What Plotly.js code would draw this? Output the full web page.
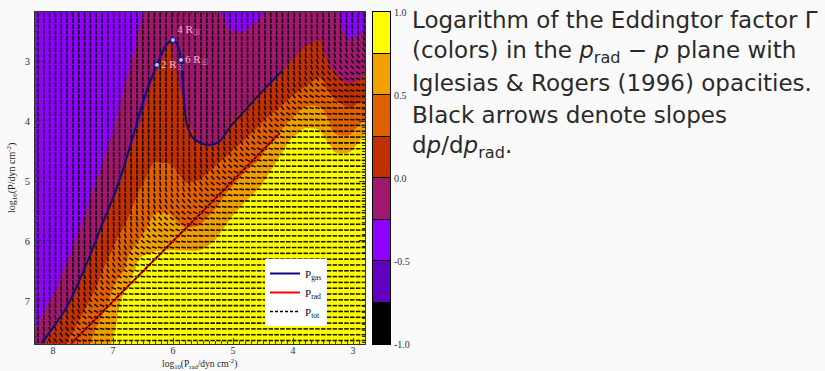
<!DOCTYPE html>
<html><head><meta charset="utf-8">
<script src="https://cdn.plot.ly/plotly-3.0.1.min.js"></script>
<style>html,body{margin:0;padding:0;background:#fafafa;} #chart{width:825px;height:371px;}</style>
</head><body><div id="chart"></div>
<script>
// ---- data ----
const xGrid = [8.3, 8.05, 7.8, 7.55, 7.3, 7.05, 6.8, 6.55, 6.3, 6.05, 5.8, 5.55, 5.3, 5.05, 4.8, 4.55, 4.3, 4.05, 3.8, 3.55, 3.3, 3.05, 2.8];
const yGrid = [2.18, 2.45, 2.7, 2.95, 3.2, 3.45, 3.7, 3.95, 4.2, 4.45, 4.7, 4.95, 5.2, 5.45, 5.7, 5.95, 6.2, 6.45, 6.7, 6.95, 7.2, 7.45, 7.72];
// log10 Gamma, one array per x column (top -> bottom along yGrid)
const logGammaByColumn = [
 [-0.38,-0.38,-0.38,-0.38,-0.38,-0.38,-0.38,-0.38,-0.38,-0.38,-0.38,-0.38,-0.38,-0.38,-0.38,-0.38,-0.38,-0.38,-0.38,-0.38,-0.38,-0.27,-0.12],
 [-0.38,-0.38,-0.38,-0.38,-0.38,-0.38,-0.38,-0.38,-0.38,-0.38,-0.38,-0.38,-0.38,-0.38,-0.38,-0.38,-0.38,-0.38,-0.38,-0.27,-0.14,-0.02,0.07],
 [-0.38,-0.38,-0.38,-0.38,-0.38,-0.38,-0.38,-0.38,-0.38,-0.38,-0.38,-0.38,-0.38,-0.38,-0.38,-0.38,-0.34,-0.24,-0.16,-0.07,0.02,0.12,0.23],
 [-0.38,-0.38,-0.38,-0.38,-0.38,-0.38,-0.38,-0.38,-0.38,-0.38,-0.38,-0.38,-0.38,-0.35,-0.27,-0.2,-0.12,-0.05,0.03,0.12,0.21,0.31,0.4],
 [-0.38,-0.38,-0.38,-0.38,-0.38,-0.38,-0.38,-0.38,-0.38,-0.38,-0.35,-0.28,-0.21,-0.15,-0.08,-0.01,0.06,0.14,0.21,0.3,0.4,0.49,0.55],
 [-0.38,-0.38,-0.38,-0.38,-0.38,-0.38,-0.38,-0.33,-0.28,-0.22,-0.16,-0.1,-0.05,0.02,0.09,0.17,0.24,0.33,0.41,0.5,0.57,0.63,0.73],
 [-0.38,-0.38,-0.37,-0.32,-0.28,-0.24,-0.19,-0.15,-0.1,-0.06,-0.01,0.04,0.11,0.17,0.24,0.33,0.41,0.5,0.67,0.82,0.9,0.95,0.95],
 [-0.28,-0.24,-0.21,-0.17,-0.13,-0.09,-0.055,-0.02,0.03,0.09,0.15,0.2,0.27,0.34,0.41,0.49,0.7,0.85,0.93,0.95,0.95,0.95,0.95],
 [-0.17,-0.13,-0.09,-0.045,-0.005,0.04,0.08,0.125,0.17,0.21,0.255,0.33,0.4,0.47,0.55,0.65,0.76,0.88,0.95,0.95,0.95,0.95,0.95],
 [-0.1,-0.05,0.01,0.04,0.07,0.1,0.12,0.15,0.19,0.22,0.245,0.32,0.39,0.46,0.55,0.66,0.77,0.89,0.95,0.95,0.95,0.95,0.95],
 [-0.2,-0.2,-0.19,-0.14,-0.09,-0.05,-0.005,0.05,0.09,0.14,0.19,0.23,0.3,0.38,0.46,0.6,0.78,0.9,0.95,0.95,0.95,0.95,0.95],
 [-0.2,-0.2,-0.2,-0.2,-0.2,-0.2,-0.2,-0.18,-0.07,0.04,0.14,0.24,0.33,0.4,0.48,0.61,0.78,0.9,0.95,0.95,0.95,0.95,0.95],
 [-0.22,-0.2,-0.2,-0.2,-0.2,-0.2,-0.2,-0.17,-0.1,0.06,0.23,0.32,0.41,0.49,0.61,0.73,0.86,0.95,0.95,0.95,0.95,0.95,0.95],
 [-0.3,-0.255,-0.21,-0.17,-0.14,-0.1,-0.06,-0.02,0.06,0.21,0.32,0.42,0.53,0.66,0.78,0.9,0.95,0.95,0.95,0.95,0.95,0.95,0.95],
 [-0.32,-0.26,-0.215,-0.17,-0.12,-0.07,-0.025,0.06,0.2,0.32,0.43,0.54,0.67,0.8,0.92,0.95,0.95,0.95,0.95,0.95,0.95,0.95,0.95],
 [-0.27,-0.22,-0.17,-0.12,-0.07,-0.02,0.075,0.2,0.31,0.42,0.53,0.67,0.8,0.92,0.95,0.95,0.95,0.95,0.95,0.95,0.95,0.95,0.95],
 [-0.2,-0.2,-0.2,-0.15,-0.04,0.07,0.18,0.31,0.44,0.59,0.74,0.87,0.95,0.95,0.95,0.95,0.95,0.95,0.95,0.95,0.95,0.95,0.95],
 [-0.2,-0.2,-0.13,-0.03,0.07,0.17,0.29,0.47,0.68,0.83,0.95,0.95,0.95,0.95,0.95,0.95,0.95,0.95,0.95,0.95,0.95,0.95,0.95],
 [-0.2,-0.11,-0.02,0.07,0.16,0.26,0.45,0.64,0.8,0.92,0.95,0.95,0.95,0.95,0.95,0.95,0.95,0.95,0.95,0.95,0.95,0.95,0.95],
 [-0.17,-0.08,0.02,0.12,0.21,0.33,0.46,0.61,0.78,0.9,0.95,0.95,0.95,0.95,0.95,0.95,0.95,0.95,0.95,0.95,0.95,0.95,0.95],
 [-0.22,-0.2,-0.2,-0.16,-0.01,0.14,0.28,0.39,0.49,0.71,0.85,0.95,0.95,0.95,0.95,0.95,0.95,0.95,0.95,0.95,0.95,0.95,0.95],
 [-0.35,-0.3,-0.23,-0.15,-0.07,0.03,0.2,0.34,0.47,0.71,0.86,0.95,0.95,0.95,0.95,0.95,0.95,0.95,0.95,0.95,0.95,0.95,0.95],
 [-0.33,-0.26,-0.18,-0.09,-0.005,0.13,0.29,0.49,0.74,0.87,0.95,0.95,0.95,0.95,0.95,0.95,0.95,0.95,0.95,0.95,0.95,0.95,0.95]
];
const levels = [-1.0, -0.75, -0.5, -0.25, 0.0, 0.25, 0.5, 0.75, 1.0];
const bandColors = ['#000000', '#6000c0', '#9000ff', '#a0186e', '#c03000', '#e06000', '#f0a000', '#ffff00'];
const cbTickVals = [-1.0, -0.5, 0.0, 0.5, 1.0];
const cbTickText = ['-1.0', '-0.5', '0.0', '0.5', '1.0'];

const pgasX = [8.183, 7.767, 7.433, 7.183, 6.967, 6.817, 6.683, 6.5, 6.383, 6.267, 6.133, 6.0, 5.917, 5.867, 5.833, 5.817, 5.767, 5.667, 5.55, 5.383, 5.217, 5.05, 4.883, 4.6, 4.183];
const pgasY = [7.697, 7.097, 6.363, 5.73, 5.197, 4.763, 4.313, 3.68, 3.347, 3.063, 2.763, 2.647, 2.747, 2.98, 3.397, 3.647, 4.063, 4.28, 4.363, 4.397, 4.33, 4.097, 3.913, 3.597, 3.163];
const pradX = [7.70, 6.50, 5.50, 4.22];
const pradY = [7.713, 6.51, 5.50, 4.20];
const ptotX = [7.70, 6.50, 5.50, 4.22];
const ptotY = [7.713, 6.51, 5.50, 4.20];
const radiusX = [6.267, 6.0, 5.867];
const radiusY = [3.063, 2.647, 2.98];
const radiusText = ['2 R<sub>☉</sub>', '4 R<sub>☉</sub>', '6 R<sub>☉</sub>'];

const xTitle = 'log<sub>10</sub>(P<sub>rad</sub>/dyn cm<sup>-2</sup>)';
const yTitle = 'log<sub>10</sub>(P/dyn cm<sup>-2</sup>)';
const captionLines = [
  'Logarithm of the Eddingtor factor Γ',
  '(colors) in the <i>p</i><sub>rad</sub> − <i>p</i> plane with',
  'Iglesias &amp; Rogers (1996) opacities.',
  'Black arrows denote slopes',
  'd<i>p</i>/d<i>p</i><sub>rad</sub>.'
];

// ---- derived ----
const nL = levels.length; // 9
const contourScale = [];
bandColors.forEach((c, k) => {
  const lo = k === 0 ? 0 : (k + 0.5) / nL;
  const hi = k === bandColors.length - 1 ? 1 : (k + 1.5) / nL;
  contourScale.push([lo, c], [hi, c]);
});
const nb = bandColors.length;
const barScale = [];
bandColors.forEach((c, k) => { barScale.push([k / nb, c], [(k + 1) / nb, c]); });
const bandMid = levels.slice(0, -1).map((l, k) => (l + levels[k + 1]) / 2);

function sampleLogGamma(x, y) {
  const c = logGammaByColumn;
  let fi = (xGrid[0] - x) / (xGrid[0] - xGrid[1]);
  fi = Math.max(0, Math.min(xGrid.length - 1.0001, fi));
  const i = Math.floor(fi), tx = fi - i;
  let j = 0;
  while (j < yGrid.length - 2 && y > yGrid[j + 1]) j++;
  let ty = (y - yGrid[j]) / (yGrid[j + 1] - yGrid[j]);
  ty = Math.max(0, Math.min(1, ty));
  return (1 - tx) * (1 - ty) * c[i][j] + tx * (1 - ty) * c[i + 1][j] + (1 - tx) * ty * c[i][j + 1] + tx * ty * c[i + 1][j + 1];
}

// slope field dp/dp_rad = 1/Gamma  ->  dlog p / dlog p_rad = (p_rad/p)/Gamma
const sx = [], sy = [];
const step = 0.097, half = 0.038;
for (let y = yGrid[0] + 0.05; y < yGrid[yGrid.length - 1]; y += step) {
  for (let x = xGrid[0] - 0.05; x > xGrid[xGrid.length - 1]; x -= step) {
    const s = Math.pow(10, x - y - sampleLogGamma(x, y));
    const a = Math.atan(s);
    const dx = half * Math.cos(a), dy = half * Math.sin(a);
    sx.push(x - dx, x + dx, null);
    sy.push(y + dy, y - dy, null);
  }
}

const serif = 'Liberation Serif, Times New Roman, serif';
const traces = [
  {
    type: 'contour', x: xGrid, y: yGrid, z: logGammaByColumn, transpose: true,
    autocontour: false, contours: {start: -1, end: 1, size: 0.25, coloring: 'fill', showlines: false},
    line: {width: 0, smoothing: 1.0},
    colorscale: contourScale, zmin: -1, zmax: 1, showscale: false, hoverinfo: 'skip', showlegend: false
  },
  {
    type: 'scatter', mode: 'lines', x: sx, y: sy, connectgaps: false,
    line: {color: 'rgba(0,0,0,0.9)', width: 1.6}, hoverinfo: 'skip', showlegend: false
  },
  {
    type: 'scatter', mode: 'lines', x: pgasX, y: pgasY, name: 'P<sub>gas</sub>',
    line: {color: '#0c0c80', width: 2, shape: 'spline', smoothing: 0.8}
  },
  {
    type: 'scatter', mode: 'lines', x: pradX, y: pradY, name: 'P<sub>rad</sub>',
    line: {color: '#ff0000', width: 2}
  },
  {
    type: 'scatter', mode: 'lines', x: ptotX, y: ptotY, name: 'P<sub>tot</sub>',
    line: {color: '#000000', width: 1.5, dash: '3px,2px'}
  },
  {
    type: 'scatter', mode: 'markers+text', x: radiusX, y: radiusY, text: radiusText,
    textposition: ['middle right', 'top right', 'middle right'],
    textfont: {family: serif, size: 11, color: '#ffb4c8'},
    marker: {size: 5, color: '#a8c8ff', line: {color: '#0c0c80', width: 1}},
    showlegend: false, hoverinfo: 'skip'
  },
  {
    type: 'heatmap', x: [0], y: bandMid, z: bandMid.map(v => [v]), xaxis: 'x2', yaxis: 'y2',
    colorscale: barScale, zmin: -1, zmax: 1, showscale: false, ygap: 1, hoverinfo: 'skip'
  }
];

const plotW = 825 - 35 - 435, plotH = 371 - 12 - 27;
const px2x = p => (p - 35) / plotW;
const py2y = p => (344 - p) / plotH;

const annotations = captionLines.map((t, k) => ({
  xref: 'paper', yref: 'paper', x: px2x(410), y: py2y(20 + 31.7 * k),
  xanchor: 'left', yanchor: 'middle', text: t, showarrow: false, align: 'left',
  font: {family: 'DejaVu Sans, sans-serif', size: 23, color: '#2a2a2a'}
}));
annotations.push(
  {xref: 'paper', yref: 'paper', x: px2x(199), y: py2y(371), xanchor: 'center', yanchor: 'bottom',
   text: xTitle, showarrow: false, borderpad: 0, font: {family: serif, size: 9.5, color: '#222'}},
  {xref: 'paper', yref: 'paper', x: px2x(12), y: py2y(178), xanchor: 'center', yanchor: 'middle',
   text: yTitle, textangle: -90, showarrow: false, font: {family: serif, size: 10, color: '#222'}}
);

const axisCommon = {
  ticks: 'inside', ticklen: 6, tickwidth: 1, tickcolor: '#333',
  showline: true, linecolor: '#333', linewidth: 1, mirror: 'allticks',
  showgrid: false, zeroline: false, tickmode: 'linear', tick0: 0, dtick: 1,
  minor: {ticks: 'inside', ticklen: 3, dtick: 0.1, tick0: 0, tickcolor: '#333', showgrid: false},
  tickfont: {family: serif, size: 10.5, color: '#333'}, automargin: false
};

const layout = {
  width: 825, height: 371,
  margin: {l: 35, r: 435, t: 12, b: 27},
  paper_bgcolor: '#fafafa', plot_bgcolor: '#000000',
  showlegend: true,
  legend: {x: px2x(265), y: py2y(259), xanchor: 'left', yanchor: 'top', bgcolor: '#ffffff',
           font: {family: serif, size: 11, color: '#111'}, itemwidth: 30, borderwidth: 0},
  xaxis: Object.assign({}, axisCommon, {
    domain: [0, 330 / plotW], range: [8.3, 2.8], anchor: 'y', ticklabelstandoff: -3,
    tickfont: {family: serif, size: 10, color: '#333'}
  }),
  yaxis: Object.assign({}, axisCommon, {
    domain: [0, 1], range: [7.72, 2.18], anchor: 'x', ticklabelstandoff: 2
  }),
  xaxis2: {domain: [338 / plotW, 1], range: [-0.5, 0.5], anchor: 'y2', showticklabels: false, ticks: '',
           showline: true, mirror: true, linecolor: '#000', linewidth: 1, showgrid: false, zeroline: false},
  yaxis2: {domain: [0, 1], range: [-1, 1], anchor: 'x2', side: 'right', tickmode: 'array',
           tickvals: cbTickVals, ticktext: cbTickText, ticks: '', showline: true, mirror: true,
           linecolor: '#000', linewidth: 1, showgrid: false, zeroline: false,
           tickfont: {family: serif, size: 10, color: '#333'}, ticklabelstandoff: 1},
  annotations: annotations
};

Plotly.newPlot('chart', traces, layout, {staticPlot: true, displayModeBar: false});
</script></body></html>
